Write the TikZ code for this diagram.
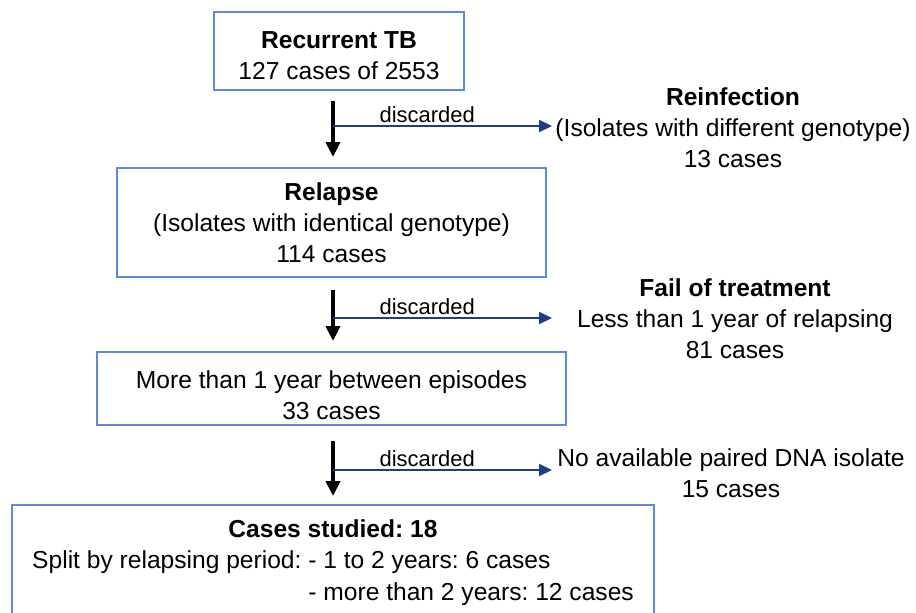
\documentclass[tikz,border=0pt]{standalone}
\usepackage{fontspec}
\setmainfont{Liberation Sans}
\frenchspacing
\usepackage{xcolor}
\definecolor{boxblue}{HTML}{5B8BD8}
\definecolor{discardnavy}{HTML}{1F3C86}
\usetikzlibrary{positioning, arrows.meta}
\tikzset{
  every node/.style={font=\fontsize{14}{17.6}\selectfont},
  flowbox/.style={
    rectangle, draw=boxblue, line width=1.1pt, fill=white,
    align=center, inner sep=3pt
  },
  sidenote/.style={align=center, inner sep=2pt},
  mainarrow/.style={-{Triangle[length=0.3cm, width=0.28cm]}, black, line width=2.2pt},
  discardarrow/.style={-{Triangle[length=0.26cm, width=0.24cm]}, discardnavy, line width=1.2pt},
  notelabel/.style={font=\fontsize{12.5}{15}\selectfont, text=black, inner sep=1pt}
}
\newcommand{\topgap}[1]{\rule{0pt}{#1}}

\begin{document}
\begin{tikzpicture}[x=0.02cm, y=-0.02cm]
\useasboundingbox (0,0) rectangle (916,612);

% Main flow boxes
\node[flowbox, minimum width=5cm, minimum height=1.56cm] (recurrent) at (339,51)
  {\topgap{14.7pt}\textbf{Recurrent TB}\\127 cases of 2553};
\node[flowbox, minimum width=8.58cm, minimum height=2.18cm] (relapse) at (331.5,222.5)
  {\textbf{Relapse}\\(Isolates with identical genotype)\\114 cases};
\node[flowbox, minimum width=9.38cm, minimum height=1.46cm] (morethan) at (331.5,388.5)
  {\topgap{17.6pt}More than 1 year between episodes\\33 cases};
\node[flowbox, minimum width=12.84cm, minimum height=2.24cm] (studied) at (333,561)
  {\topgap{14.7pt}\textbf{Cases studied: 18}\\[4pt]
   \begin{tabular}{@{}l@{ }l@{}}
   Split by relapsing period: & - 1 to 2 years: 6 cases\\[1pt]
                              & - more than 2 years: 12 cases
   \end{tabular}};

% Discarded groups
\node[sidenote] (reinfection) at (733,128)
  {\textbf{Reinfection}\\(Isolates with different genotype)\\13 cases};
\node[sidenote] (failtreat) at (735,318.5)
  {\textbf{Fail of treatment}\\Less than 1 year of relapsing\\81 cases};
\node[sidenote] (nodna) at (731,473)
  {No available paired DNA isolate\\15 cases};

% Split points on the main arrows
\coordinate (split1) at (333,126);
\coordinate (split2) at (333,318);
\coordinate (split3) at (333,470);
\coordinate (out1) at (552,126);
\coordinate (out2) at (552,318);
\coordinate (out3) at (552,470);

% Main arrows
\draw[mainarrow, shorten <=0.2cm, shorten >=0.2cm]
  (recurrent.south -| studied.north) -- (relapse.north -| studied.north);
\draw[mainarrow, shorten <=0.24cm, shorten >=0.2cm]
  (relapse.south -| studied.north) -- (morethan.north -| studied.north);
\draw[mainarrow, shorten <=0.3cm, shorten >=0.16cm]
  (morethan.south -| studied.north) -- (studied.north);

% Discard arrows
\draw[discardarrow] (split1) -- node[notelabel, above, pos=0.43] {discarded} (out1);
\draw[discardarrow] (split2) -- node[notelabel, above, pos=0.43] {discarded} (out2);
\draw[discardarrow] (split3) -- node[notelabel, above, pos=0.43] {discarded} (out3);

\end{tikzpicture}
\end{document}
